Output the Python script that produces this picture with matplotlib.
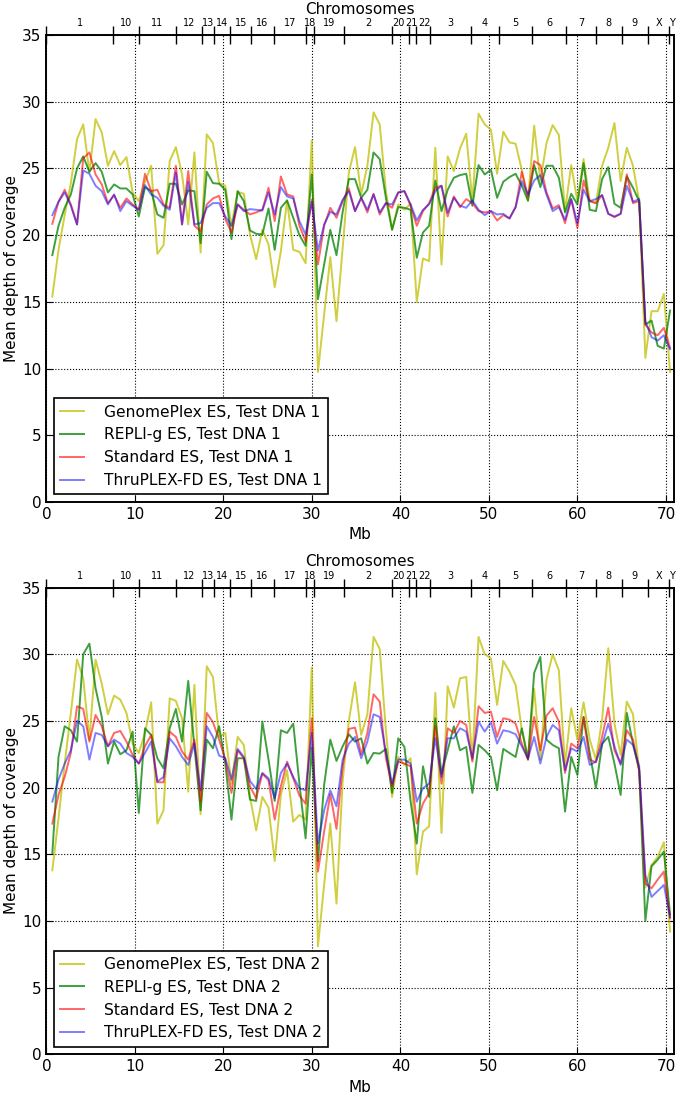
import numpy as np
import matplotlib
matplotlib.use("Agg")
import matplotlib.pyplot as plt

# bins along the concatenated exome (Mb)
bin_start = 0.67
bin_step = 0.698

# chromosome boundaries (Mb) and names, in the order they are laid out
chrom_edges = [0, 7.5, 10.45, 14.6, 17.6, 18.9, 20.8, 23.1, 25.7, 29.3, 30.2, 33.6,
               39.1, 41.0, 41.8, 43.4, 48.0, 51.1, 54.9, 58.7, 62.1, 65.0, 68.0,
               70.4, 70.95]
chrom_names = ["1", "10", "11", "12", "13", "14", "15", "16", "17", "18", "19", "2",
               "20", "21", "22", "3", "4", "5", "6", "7", "8", "9", "X", "Y"]

# Test DNA 1
gp1 = [15.4, 18.9, 21.5, 23.9, 27.2, 28.3, 24.7, 28.7, 27.7, 25.2,
       26.3, 25.25, 25.85, 23.2, 22.55, 24.0, 25.2, 18.6, 19.25, 25.55,
       26.6, 24.55, 20.8, 26.2, 18.7, 27.55, 26.9, 23.9, 23.7, 20.7,
       23.25, 23.1, 20.05, 18.2, 20.4, 19.3, 16.1, 18.8, 22.6, 18.9,
       18.75, 17.9, 27.1, 9.75, 14.05, 18.35, 13.55, 19.05, 24.7, 26.6,
       23.05, 25.2, 29.2, 28.3, 23.3, 20.4, 22.3, 21.9, 22.35, 15.0,
       18.25, 18.05, 26.55, 17.8, 25.9, 24.8, 26.5, 27.6, 22.55, 29.1,
       28.3, 27.9, 24.6, 27.75, 26.95, 26.85, 24.9, 22.55, 28.2, 24.05,
       26.9, 28.25, 27.5, 21.8, 25.25, 22.55, 25.7, 22.55, 22.4, 25.2,
       26.55, 28.4, 24.05, 26.55, 25.2, 22.55, 10.8, 14.3, 14.3, 15.6,
       9.75]
rg1 = [18.5, 20.7, 22.05, 23.05, 25.0, 25.9, 24.75, 25.4, 24.75, 23.2,
       23.8, 23.5, 23.5, 23.05, 21.4, 23.6, 23.3, 21.55, 21.3, 23.85,
       23.85, 22.3, 23.35, 23.3, 19.4, 24.75, 23.9, 23.85, 23.4, 19.7,
       23.3, 22.55, 20.35, 20.1, 20.05, 22.0, 18.9, 22.05, 22.6, 21.3,
       20.0, 19.2, 24.55, 15.2, 17.8, 20.4, 18.5, 21.75, 24.2, 24.2,
       22.8, 23.4, 26.2, 25.7, 22.8, 20.4, 22.1, 22.05, 21.9, 18.3,
       20.2, 20.7, 24.1, 21.8, 23.4, 24.3, 24.5, 24.6, 22.2, 25.25,
       24.55, 24.9, 22.8, 24.0, 24.35, 24.6, 23.7, 22.6, 25.25, 23.6,
       25.2, 25.2, 24.3, 21.7, 23.1, 22.3, 25.4, 21.9, 21.8, 24.2,
       25.1, 22.35, 22.05, 24.4, 23.55, 22.55, 13.3, 13.6, 11.7, 11.5,
       14.35]
st1 = [20.85, 22.5, 23.4, 22.3, 20.8, 25.75, 26.2, 24.55, 23.8, 22.4,
       23.0, 22.05, 22.75, 22.3, 21.9, 24.6, 23.3, 23.4, 22.3, 22.05,
       25.2, 20.8, 24.8, 20.7, 20.3, 22.3, 22.75, 22.95, 21.2, 20.2,
       22.3, 21.9, 21.55, 21.7, 21.9, 23.55, 21.05, 24.4, 23.05, 22.9,
       20.7, 19.55, 22.65, 17.8, 20.7, 22.05, 21.3, 22.55, 23.5, 21.8,
       22.8, 21.7, 23.1, 21.55, 22.4, 22.05, 23.2, 23.3, 22.2, 20.7,
       21.8, 22.4, 23.55, 23.7, 21.4, 22.9, 22.1, 22.7, 22.4, 21.8,
       21.7, 21.8, 21.1, 21.5, 21.25, 22.1, 24.75, 22.9, 25.55, 25.25,
       23.2, 22.0, 22.25, 20.9, 22.7, 20.55, 24.1, 22.55, 22.4, 23.0,
       21.6, 21.35, 21.6, 24.55, 22.4, 22.55, 13.3, 12.7, 12.5, 13.05,
       11.55]
tp1 = [21.5, 22.5, 23.2, 22.2, 20.8, 24.85, 24.6, 23.7, 23.3, 22.3,
       23.05, 21.8, 22.55, 22.2, 21.9, 23.75, 23.05, 22.8, 22.2, 21.9,
       24.7, 20.8, 24.0, 20.8, 20.9, 22.05, 22.4, 22.4, 21.4, 20.7,
       22.3, 21.8, 21.95, 21.9, 21.85, 23.2, 21.55, 23.6, 22.9, 22.75,
       21.05, 20.05, 22.5, 18.85, 20.8, 21.75, 21.55, 22.65, 23.3, 21.8,
       22.8, 21.9, 23.05, 21.7, 22.4, 22.3, 23.2, 23.3, 22.3, 21.1,
       21.9, 22.3, 23.3, 23.7, 21.7, 22.8, 22.2, 22.05, 22.6, 21.9,
       21.5, 21.8, 21.55, 21.6, 21.25, 22.1, 24.05, 23.05, 24.1, 24.5,
       23.05, 21.8, 22.1, 21.15, 22.7, 20.9, 23.4, 22.55, 22.7, 23.0,
       21.6, 21.4, 21.6, 23.7, 22.5, 22.7, 13.55, 12.35, 12.1, 12.5,
       11.45]

# Test DNA 2
gp2 = [13.8, 17.7, 21.8, 25.6, 29.6, 28.2, 23.6, 29.6, 27.8, 25.5,
       26.9, 26.6, 25.6, 23.3, 22.6, 24.1, 26.4, 17.3, 18.3, 26.7,
       26.5, 25.2, 19.7, 27.7, 18.0, 29.1, 28.3, 23.8, 24.1, 20.3,
       23.8, 23.2, 19.3, 16.8, 19.3, 18.5, 14.5, 19.45, 21.3, 17.45,
       17.95, 17.6, 29.0, 8.1, 12.7, 17.3, 11.3, 20.5, 25.0, 27.9,
       23.95, 25.5, 31.3, 30.4, 24.3, 19.3, 22.3, 21.7, 22.2, 13.5,
       16.7, 17.1, 27.1, 16.6, 27.6, 26.0, 28.2, 28.3, 22.1, 31.3,
       30.0, 29.7, 26.2, 29.5, 28.7, 27.7, 24.3, 22.2, 27.4, 22.1,
       28.1, 30.0, 28.8, 21.7, 25.95, 23.6, 26.4, 23.6, 22.1, 25.1,
       30.45, 24.8, 22.45, 26.45, 25.5, 21.3, 12.5, 14.2, 14.8, 15.9,
       9.2]
rg2 = [15.1, 22.3, 24.6, 24.3, 23.45, 30.0, 30.8, 27.45, 25.3, 21.8,
       23.45, 22.5, 22.8, 24.2, 18.1, 24.45, 23.95, 22.2, 21.45, 24.45,
       25.9, 23.45, 28.0, 23.1, 18.3, 23.6, 22.95, 24.6, 21.8, 17.6,
       22.2, 22.2, 19.1, 19.0, 24.95, 22.1, 19.0, 24.3, 24.1, 24.8,
       20.3, 16.2, 23.0, 14.5, 20.2, 23.6, 22.0, 23.1, 24.0, 23.45,
       23.7, 21.8, 22.6, 22.55, 22.9, 19.6, 23.7, 23.05, 18.95, 15.8,
       21.6, 19.3, 25.2, 21.05, 22.8, 24.6, 22.8, 23.05, 19.6, 23.2,
       22.8, 22.3, 19.8, 22.9, 22.6, 22.3, 24.45, 22.1, 28.6, 29.8,
       23.6, 23.2, 22.95, 18.2, 22.3, 20.95, 25.3, 22.6, 19.95, 23.3,
       23.8, 21.8, 19.45, 25.6, 23.3, 21.3, 10.0, 14.1, 14.6, 15.2,
       10.5]
st2 = [17.3, 19.45, 20.8, 22.6, 26.1, 25.9, 23.45, 25.45, 24.6, 23.1,
       24.1, 24.25, 23.45, 22.45, 21.8, 23.1, 23.95, 20.4, 20.4, 24.2,
       23.8, 22.7, 22.1, 23.6, 18.95, 25.6, 24.9, 23.6, 22.1, 19.6,
       22.8, 22.2, 20.1, 19.2, 21.05, 20.55, 17.6, 20.1, 21.95, 20.7,
       19.4, 18.8, 25.2, 13.7, 16.7, 19.5, 16.9, 21.6, 24.4, 24.5,
       22.5, 24.1, 27.0, 26.45, 22.2, 20.1, 21.95, 21.8, 21.6, 17.3,
       18.8, 19.6, 24.6, 20.3, 24.45, 24.1, 25.0, 24.7, 21.95, 26.1,
       25.6, 25.7, 23.8, 25.2, 25.1, 24.8, 23.3, 22.1, 25.3, 22.8,
       25.4, 25.95, 24.95, 21.1, 23.3, 22.95, 25.3, 22.1, 21.9, 23.8,
       26.0, 22.8, 21.8, 24.3, 23.6, 21.3, 12.8, 12.45, 13.1, 13.7,
       10.2]
tp2 = [18.95, 20.6, 21.8, 22.8, 25.0, 24.6, 22.1, 24.1, 23.95, 23.1,
       23.6, 23.3, 22.6, 22.3, 21.8, 22.6, 23.45, 20.45, 20.8, 23.7,
       23.1, 22.3, 21.7, 23.3, 19.8, 24.6, 23.8, 22.4, 22.2, 20.6,
       22.9, 22.3, 20.5, 19.9, 21.1, 20.7, 19.2, 21.1, 21.8, 20.8,
       19.95, 19.8, 24.1, 15.8, 18.3, 19.8, 18.6, 22.1, 23.3, 23.8,
       22.2, 23.45, 25.5, 25.3, 22.6, 20.3, 22.1, 22.1, 21.8, 18.95,
       19.95, 20.3, 23.7, 20.8, 23.7, 23.7, 24.45, 24.2, 22.2, 24.95,
       24.2, 24.9, 23.3, 24.3, 24.2, 24.0, 23.1, 22.2, 23.8, 21.8,
       23.8, 24.7, 24.3, 21.3, 22.95, 22.7, 23.8, 21.7, 21.95, 23.2,
       24.8, 23.1, 21.7, 23.6, 23.2, 21.6, 13.45, 11.8, 12.25, 12.7,
       10.3]

methods = ["GenomePlex ES", "REPLI-g ES", "Standard ES", "ThruPLEX-FD ES"]
colors = ["y", "g", "r", "b"]
alphas = [0.75, 0.75, 0.6, 0.5]

plt.rcParams["font.family"] = "DejaVu Sans"
plt.rcParams["font.size"] = 11

fig = plt.figure(figsize=(6.78, 10.95), dpi=100)
W, H = 678.0, 1095.0
ax_top = fig.add_axes([46.4 / W, 1 - 502 / H, 627.9 / W, 467 / H])
ax_bot = fig.add_axes([46.4 / W, 1 - 1054.3 / H, 627.9 / W, 466.7 / H])

# label centres; the crowded 20/21/22 labels are nudged apart a little
mids = [(a + b) / 2 for a, b in zip(chrom_edges[:-1], chrom_edges[1:])]
nudge = {"20": -0.3, "21": -0.12, "22": 0.15}
mids = [m + nudge.get(n, 0) for m, n in zip(mids, chrom_names)]

for ax, series, dna in [(ax_top, [gp1, rg1, st1, tp1], 1),
                        (ax_bot, [gp2, rg2, st2, tp2], 2)]:
    x = bin_start + bin_step * np.arange(len(series[0]))
    for vals, name, c, a in zip(series, methods, colors, alphas):
        ax.plot(x, vals, color=c, alpha=a, lw=1.4,
                label=f"{name}, Test DNA {dna}")
    ax.set_xlim(0, 70.95)
    ax.set_ylim(0, 35)
    ax.set_xticks(np.arange(0, 71, 10))
    ax.set_yticks(np.arange(0, 36, 5))
    ax.grid(True, ls=":", color="k", lw=0.8)
    ax.tick_params(direction="in", top=False, right=True, length=5, labelsize=11)
    for s in ax.spines.values():
        s.set_linewidth(1.2)
    ax.set_xlabel("Mb", fontsize=11, labelpad=4)
    ax.set_ylabel("Mean depth of coverage", fontsize=11, labelpad=2)
    leg = ax.legend(loc="lower left", fontsize=11.2, handlelength=1.5,
                    handletextpad=1.3, fancybox=False, edgecolor="k",
                    framealpha=1, borderaxespad=0.5)
    leg.get_frame().set_linewidth(1.2)

    # chromosome axis on top
    tw = ax.twiny()
    tw.set_xlim(ax.get_xlim())
    tw.set_xticks(chrom_edges[:-1])
    tw.set_xticklabels([])
    tw.set_xticks(mids, minor=True)
    tw.set_xticklabels(chrom_names, minor=True)
    tw.tick_params(which="major", direction="inout", length=13, width=1)
    tw.tick_params(which="minor", length=0, labelsize=7, pad=5)
    tw.set_xlabel("Chromosomes", fontsize=11, labelpad=3)
    for s in tw.spines.values():
        s.set_linewidth(1.2)

fig.savefig("out.png", dpi=100)
